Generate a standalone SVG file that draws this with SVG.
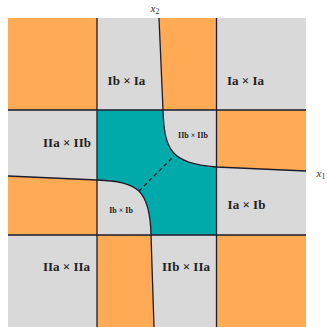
<svg xmlns="http://www.w3.org/2000/svg" width="327" height="327" viewBox="0 0 327 327">
<style>
.g{fill:#d9d9d9}
.o{fill:#ffaa55}
.t{fill:#00aaaa}
.ln{fill:none;stroke:#1c1c2c;stroke-width:1.3}
.lb{font-family:"Liberation Serif","Times New Roman",serif;font-weight:bold;fill:#222;text-anchor:middle}
.big{font-size:13px}
.sm{font-size:8px}
.ax{font-family:"Liberation Serif","Times New Roman",serif;font-style:italic;font-size:11px;fill:#333}
</style>
<rect width="327" height="327" fill="#ffffff"/>
<g id="regions">
<rect class="g" x="8" y="18" width="298" height="309"/>
<rect class="o" x="8" y="18" width="89" height="92"/>
<rect class="o" x="216.5" y="235" width="89.5" height="92"/>
<path class="o" d="M159,18 L163,110 L216.5,110 L216.5,18 Z"/>
<path class="o" d="M216.5,110 L216.5,167 L306,171 L306,110 Z"/>
<path class="o" d="M8,176 L97,180 L97,235 L8,235 Z"/>
<path class="o" d="M97,235 L151,235 L154,327 L97,327 Z"/>
<rect class="t" x="97" y="110" width="119.5" height="125"/>
<path class="g" d="M163,110 C164.5,150 170,163 216.5,167 L216.5,110 Z"/>
<path class="g" d="M97,180 C137,181.5 150,189 151,235 L97,235 Z"/>
</g>
<g id="connectors">
<path class="ln" d="M97,18 V327 M216.5,18 V327 M8,110 H306 M8,235 H306"/>
<path class="ln" d="M159,18 L163,110 C164.5,150 170,163 216.5,167 L306,171"/>
<path class="ln" d="M8,176 L97,180 C137,181.5 150,189 151,235 L154,327"/>
<path class="ln" d="M139,191 L174,156" stroke-dasharray="4,3"/>
</g>
<g id="labels">
<text class="lb big" x="126.5" y="85">Ib × Ia</text>
<text class="lb big" x="245.5" y="85">Ia × Ia</text>
<text class="lb big" x="67" y="147">IIa × IIb</text>
<text class="lb sm" x="193" y="137.5">IIb × IIb</text>
<text class="lb sm" x="121" y="213">Ib × Ib</text>
<text class="lb big" x="246.5" y="209">Ia × Ib</text>
<text class="lb big" x="66.5" y="271">IIa × IIa</text>
<text class="lb big" x="186" y="271">IIb × IIa</text>
</g>
<g id="axes">
<text class="ax" x="150.5" y="12">x<tspan font-style="normal" font-size="8" dy="2">2</tspan></text>
<text class="ax" x="316.5" y="177">x<tspan font-style="normal" font-size="8" dy="2">1</tspan></text>
</g>
</svg>
